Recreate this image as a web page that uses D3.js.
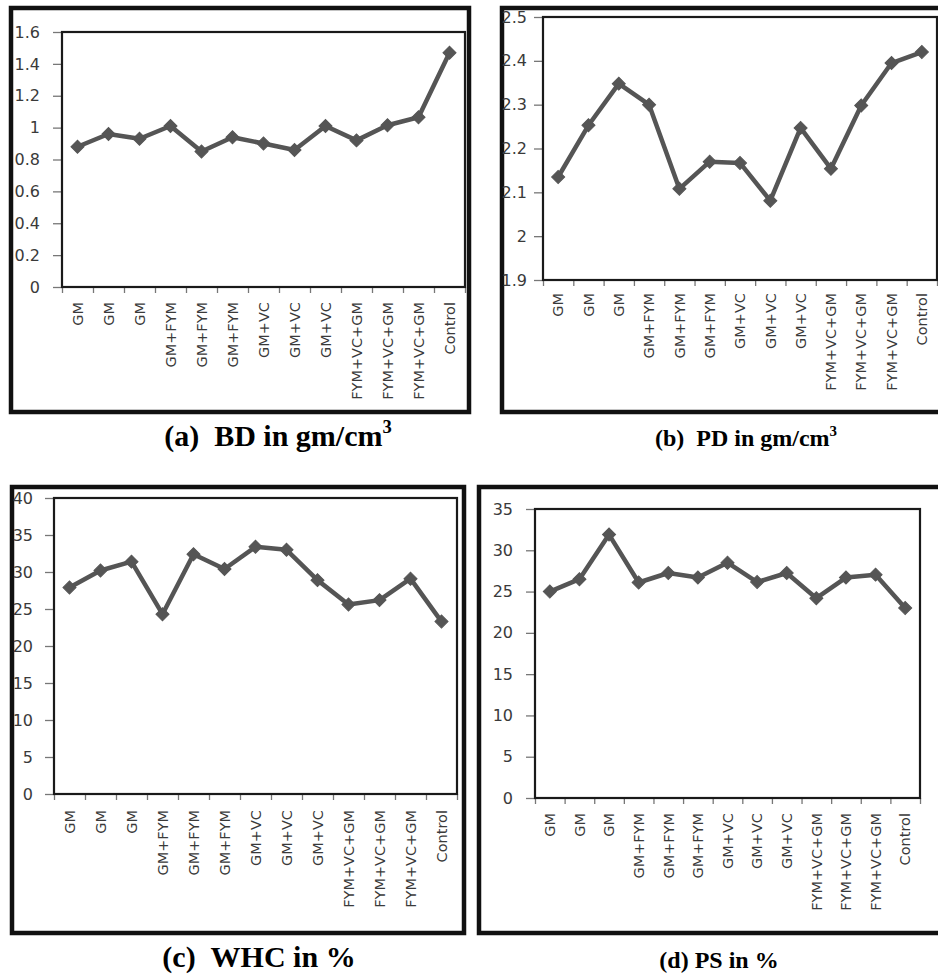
<!DOCTYPE html>
<html>
<head>
<meta charset="utf-8">
<script src="https://cdn.jsdelivr.net/npm/d3@7"></script>
<style>
  html, body { margin: 0; padding: 0; background: #fff; }
  svg { display: block; }
</style>
</head>
<body>
<svg id="chart" width="938" height="975"></svg>
<script>
// Treatments along the x axis (same for all four panels)
const categories = ["GM", "GM", "GM", "GM+FYM", "GM+FYM", "GM+FYM",
  "GM+VC", "GM+VC", "GM+VC", "FYM+VC+GM", "FYM+VC+GM", "FYM+VC+GM", "Control"];

// Bulk density, gm/cm3
const bdValues = [0.88, 0.96, 0.93, 1.01, 0.85, 0.94, 0.90, 0.86, 1.01, 0.92, 1.015, 1.065, 1.47];
const bdTicks = [0, 0.2, 0.4, 0.6, 0.8, 1, 1.2, 1.4, 1.6];

// Particle density, gm/cm3
const pdValues = [2.135, 2.253, 2.348, 2.300, 2.108, 2.170, 2.167, 2.081, 2.247, 2.154, 2.298, 2.395, 2.420];
const pdTicks = [1.9, 2, 2.1, 2.2, 2.3, 2.4, 2.5];

// Water holding capacity, %
const whcValues = [27.9, 30.2, 31.4, 24.3, 32.4, 30.4, 33.4, 33.0, 28.9, 25.6, 26.2, 29.1, 23.3];
const whcTicks = [0, 5, 10, 15, 20, 25, 30, 35, 40];

// Pore space, %
const psValues = [25.0, 26.5, 31.9, 26.1, 27.25, 26.7, 28.5, 26.15, 27.25, 24.2, 26.7, 27.05, 23.0];
const psTicks = [0, 5, 10, 15, 20, 25, 30, 35];

// Caption texts: [main, superscript]
const captions = [
  ["(a)\u00a0\u00a0BD in gm/cm", "3"],
  ["(b)\u00a0\u00a0PD in gm/cm", "3"],
  ["(c)\u00a0\u00a0WHC in %", ""],
  ["(d) PS in %", ""]
];

// Panel geometry: outer frame, plot area, caption placement
const panels = [
  { values: bdValues, ticks: bdTicks, caption: captions[0],
    frame: [11, 8, 469, 412], plot: [62, 32, 465, 287],
    capX: 278, capY: 446, capSize: 30, labelGap: 15, yPad: 13 },
  { values: pdValues, ticks: pdTicks, caption: captions[1],
    frame: [502, 8, 950, 412], plot: [543, 17, 937, 280],
    capX: 746, capY: 446, capSize: 24, labelGap: 13, yPad: 7 },
  { values: whcValues, ticks: whcTicks, caption: captions[2],
    frame: [12, 487, 464, 933], plot: [54, 498, 457, 794],
    capX: 259, capY: 967, capSize: 30, labelGap: 16, yPad: 12 },
  { values: psValues, ticks: psTicks, caption: captions[3],
    frame: [479, 487, 950, 933], plot: [535, 509, 920, 798],
    capX: 719, capY: 968, capSize: 24, labelGap: 15, yPad: 13 }
];

const svg = d3.select("#chart");
const lineColor = "#555555";
const textColor = "#3a3a3a";
const fmt = d => String(+d.toFixed(2));

panels.forEach(p => {
  const [fx0, fy0, fx1, fy1] = p.frame;
  const [px0, py0, px1, py1] = p.plot;

  // thick outer frame
  svg.append("rect")
    .attr("x", fx0).attr("y", fy0)
    .attr("width", fx1 - fx0).attr("height", fy1 - fy0)
    .attr("fill", "#fff").attr("stroke", "#111").attr("stroke-width", 4.5);

  const idx = d3.range(categories.length);
  const x = d3.scaleBand().domain(idx).range([px0, px1]).padding(0);
  const xEdge = d3.scaleLinear().domain([0, categories.length]).range([px0, px1]);
  const y = d3.scaleLinear().domain(d3.extent(p.ticks)).range([py1, py0]);

  const g = svg.append("g");

  // y axis with outside ticks
  const yAxis = g.append("g")
    .attr("transform", `translate(${px0},0)`)
    .call(d3.axisLeft(y).tickValues(p.ticks).tickFormat(fmt).tickSize(9).tickPadding(p.yPad));
  yAxis.select(".domain").remove();
  yAxis.selectAll("line").attr("stroke", "#777").attr("stroke-width", 1.3);
  yAxis.selectAll("text")
    .attr("fill", textColor)
    .style("font-family", "'DejaVu Sans', Verdana, sans-serif")
    .style("font-size", "16px");

  // category boundary ticks
  const xTickAxis = g.append("g")
    .attr("transform", `translate(0,${py1})`)
    .call(d3.axisBottom(xEdge).tickValues(d3.range(categories.length + 1)).tickFormat("").tickSize(6));
  xTickAxis.select(".domain").remove();
  xTickAxis.selectAll("line").attr("stroke", "#777").attr("stroke-width", 1.3);

  // rotated category labels
  const xAxis = g.append("g")
    .attr("transform", `translate(0,${py1})`)
    .call(d3.axisBottom(x).tickFormat(i => categories[i]).tickSize(0));
  xAxis.select(".domain").remove();
  xAxis.selectAll("text")
    .attr("transform", "rotate(-90)")
    .attr("x", -p.labelGap)
    .attr("y", 0)
    .attr("dy", "0.36em")
    .style("text-anchor", "end")
    .attr("fill", textColor)
    .style("font-family", "'DejaVu Sans', Verdana, sans-serif")
    .style("font-size", "14.5px");

  // plot area border
  g.append("rect")
    .attr("x", px0).attr("y", py0)
    .attr("width", px1 - px0).attr("height", py1 - py0)
    .attr("fill", "none").attr("stroke", "#1a1a1a").attr("stroke-width", 2.2);

  // data line
  const line = d3.line()
    .x((d, i) => x(i) + x.bandwidth() / 2)
    .y(d => y(d));
  g.append("path")
    .datum(p.values)
    .attr("d", line)
    .attr("fill", "none")
    .attr("stroke", lineColor)
    .attr("stroke-width", 4.5)
    .attr("stroke-linejoin", "round");

  // diamond markers
  const diamond = d3.symbol().type(d3.symbolSquare).size(85);
  g.selectAll(".marker")
    .data(p.values)
    .join("path")
    .attr("class", "marker")
    .attr("d", diamond)
    .attr("transform", (d, i) => `translate(${x(i) + x.bandwidth() / 2},${y(d)}) rotate(45)`)
    .attr("fill", lineColor)
    .attr("stroke", lineColor)
    .attr("stroke-width", 1);

  // caption below the frame
  const cap = svg.append("text")
    .attr("x", p.capX).attr("y", p.capY)
    .attr("text-anchor", "middle")
    .attr("fill", "#000")
    .style("font-family", "'Liberation Serif', 'Times New Roman', serif")
    .style("font-weight", "bold")
    .style("font-size", p.capSize + "px");
  cap.append("tspan").text(p.caption[0]);
  if (p.caption[1]) {
    cap.append("tspan")
      .attr("dy", -p.capSize * 0.42)
      .style("font-size", (p.capSize * 0.62) + "px")
      .text(p.caption[1]);
  }
});
</script>
</body>
</html>
